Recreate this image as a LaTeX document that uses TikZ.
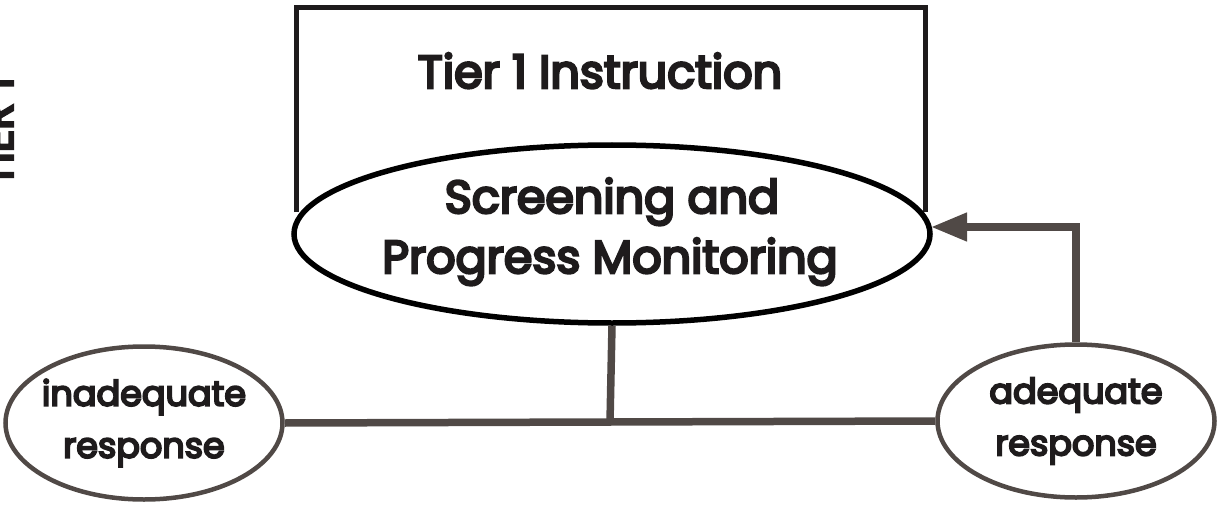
\documentclass[tikz,border=0pt]{standalone}
\usepackage{fontspec}
\setmainfont{Poppins}
\newfontfamily\medfont{Poppins}[FakeBold=5.5]
\usetikzlibrary{arrows.meta,shapes.geometric}
\definecolor{linegray}{RGB}{80,73,70}
\definecolor{txt}{RGB}{30,27,28}
\begin{document}
\begin{tikzpicture}[x=1pt,y=-1pt,
  bigtext/.style={font=\medfont\fontsize{46}{60}\selectfont, text=txt, inner sep=0pt, align=center},
  smalltext/.style={font=\medfont\fontsize{35}{52}\selectfont, text=txt, align=center},
  smallell/.style={ellipse, draw=linegray, line width=4.5pt, fill=white, inner sep=-20pt,
    minimum width=277pt, minimum height=153pt, smalltext},
  conn/.style={draw=linegray, line width=7.5pt}]
\useasboundingbox (0,0) rectangle (1218,508);
% rectangle frame
\node[inner sep=0pt, minimum width=628pt, minimum height=204pt] (rect) at (611,110) {};
\draw[line width=5pt, draw=txt] (rect.south west) |- (rect.north east) -- (rect.south east);
\node[bigtext, anchor=base] (tier) at (600,88) {Tier 1 Instruction};
% big ellipse
\node[ellipse, draw=black, line width=5.5pt, fill=white, inner sep=0pt,
  minimum width=636pt, minimum height=178pt] (big) at (612,234) {};
\node[bigtext, anchor=base] (scr) at (612,213) {Screening and};
\node[bigtext, anchor=base] (prog) at (610,273) {Progress Monitoring};
% small ellipses
\node[smallell] (ina) at (144,423) {inadequate\\response};
\node[smallell] (ade) at (1076,421) {adequate\\response};
% connectors
\coordinate (junc) at (610,422);
\draw[conn] (big.south) -- (junc);
\draw[conn] (ina.east) -- (ade.west);
\coordinate (tip) at (931,227);
\draw[conn, -{Triangle[length=36pt,width=27pt]}, linegray] (ade.north) |- (tip);
% side label
\node[rotate=90, anchor=base, inner sep=0pt, text=txt, font=\medfont\fontsize{44}{44}\selectfont] (side) at (13,132) {TIER 1};
\end{tikzpicture}
\end{document}
